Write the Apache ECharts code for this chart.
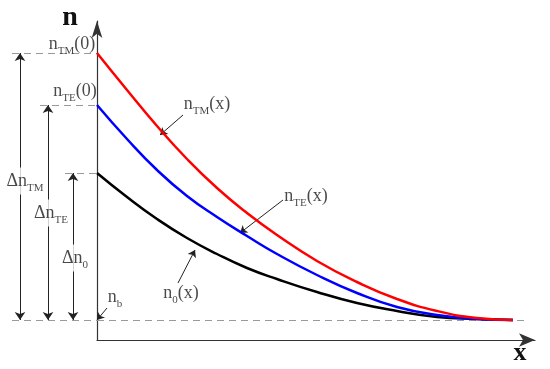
<!DOCTYPE html>
<html>
<head>
<meta charset="utf-8">
<script src="https://cdn.jsdelivr.net/npm/echarts/dist/echarts.min.js"></script>
<style>
  html, body { margin: 0; padding: 0; background: #fff; }
  #chart { width: 550px; height: 369px; }
</style>
</head>
<body>
<div id="chart"></div>
<script>
// depth x (arbitrary units, 0 = surface)
const depth = [0, 30, 60, 90, 120, 150, 180, 220, 260, 300, 340, 380, 416];
// index profiles, measured above the substrate level n_b
const nTM = [267, 230, 194, 161, 132, 107, 85, 59, 38, 21, 9, 2, 0];
const nTE = [215, 181, 150, 124, 103, 84, 66, 45, 27, 13, 5, 1, 0];
const n0 = [147, 123, 101, 82, 66, 52, 41, 28, 17, 9, 3, 1, 0];
const nb = 0;

const FONT = 'Liberation Serif';
const rich = {
  n: { fontSize: 18, fontFamily: FONT, color: '#1a1a1a' },
  s: { fontSize: 11, fontFamily: FONT, color: '#1a1a1a', padding: [14, 0, 0, 0] }
};

function curve(name, vals, color) {
  return {
    name: name,
    type: 'line',
    xAxisIndex: 0,
    yAxisIndex: 0,
    data: depth.map((x, i) => [x, vals[i]]),
    symbol: 'none',
    smooth: 0.5,
    lineStyle: { color: color, width: 2.5 },
    z: 5,
    silent: true
  };
}

function seg(x1, y1, x2, y2) {
  return [{ coord: [x1, y1] }, { coord: [x2, y2] }];
}

function labels(grid, items, bg) {
  return {
    type: 'scatter',
    xAxisIndex: grid,
    yAxisIndex: grid,
    symbolSize: 0,
    silent: true,
    z: 8,
    data: items.map(it => ({
      value: it[1],
      label: { formatter: it[0] }
    })),
    label: {
      show: true,
      position: 'inside',
      rich: rich,
      backgroundColor: bg,
      padding: [1, 1]
    }
  };
}

const dashStyle = { color: '#9a9a9a', width: 1, type: [7, 5] };
const arrowStyle = { color: '#222', width: 1, type: 'solid' };

const option = {
  animation: false,
  backgroundColor: '#fff',
  grid: [
    { left: 97, right: 15, top: 21, bottom: 29 },
    { left: 0, width: 97, top: 21, bottom: 29 }
  ],
  xAxis: [
    {
      type: 'value', gridIndex: 0, min: 0, max: 438,
      axisLine: {
        onZero: false,
        symbol: ['none', 'arrow'],
        symbolSize: [10, 16],
        lineStyle: { color: '#333', width: 1.2 }
      },
      axisTick: { show: false }, axisLabel: { show: false }, splitLine: { show: false }
    },
    {
      type: 'value', gridIndex: 1, min: -97, max: 0, show: false,
      splitLine: { show: false }
    }
  ],
  yAxis: [
    {
      type: 'value', gridIndex: 0, min: -20, max: 299,
      axisLine: {
        show: true,
        onZero: false,
        symbol: ['none', 'arrow'],
        symbolSize: [8, 17],
        lineStyle: { color: '#333', width: 1.2 }
      },
      axisTick: { show: false }, axisLabel: { show: false }, splitLine: { show: false }
    },
    {
      type: 'value', gridIndex: 1, min: -20, max: 299, show: false,
      splitLine: { show: false }
    }
  ],
  graphic: [
    { type: 'text', x: 70, y: 18, style: { text: 'n', font: 'bold 28px ' + FONT, fill: '#111', align: 'center', verticalAlign: 'middle' } },
    { type: 'text', x: 520, y: 353, style: { text: 'x', font: 'bold 26px ' + FONT, fill: '#111', align: 'center', verticalAlign: 'middle' } }
  ],
  series: [
    // substrate level in the plot area
    {
      type: 'line', xAxisIndex: 0, yAxisIndex: 0, data: [], silent: true, z: 2,
      markLine: {
        silent: true, symbol: 'none', label: { show: false },
        lineStyle: dashStyle,
        data: [seg(0, nb, 428, nb)]
      }
    },
    curve('n0', n0, '#000000'),
    curve('nTE', nTE, '#0000ff'),
    curve('nTM', nTM, '#ff0000'),
    // pointer arrows to the curves
    {
      type: 'line', xAxisIndex: 0, yAxisIndex: 0, data: [], silent: true, z: 6,
      markLine: {
        silent: true, symbol: ['none', 'arrow'], symbolSize: 7, label: { show: false },
        lineStyle: arrowStyle,
        data: [
          seg(86, 205, 63, 185),
          seg(186, 120, 143, 87),
          seg(81, 37, 98, 70),
          seg(10, 12, 0, nb)
        ]
      }
    },
    // level lines to the left of the n axis
    {
      type: 'line', xAxisIndex: 1, yAxisIndex: 1, data: [], silent: true, z: 2,
      markLine: {
        silent: true, symbol: 'none', label: { show: false },
        lineStyle: dashStyle,
        data: [
          seg(-85, nTM[0], 0, nTM[0]),
          seg(-57, nTE[0], 0, nTE[0]),
          seg(-32, n0[0], 0, n0[0]),
          seg(-85, nb, 0, nb)
        ]
      }
    },
    // delta arrows
    {
      type: 'line', xAxisIndex: 1, yAxisIndex: 1, data: [], silent: true, z: 4,
      markLine: {
        silent: true, symbol: ['arrow', 'arrow'], symbolSize: 8, label: { show: false },
        lineStyle: arrowStyle,
        data: [
          seg(-77, nTM[0], -77, nb),
          seg(-49, nTE[0], -49, nb),
          seg(-24, n0[0], -24, nb)
        ]
      }
    },
    labels(0, [
      ['{n|n}{s|TM}{n|(x)}', [110, 216]],
      ['{n|n}{s|TE}{n|(x)}', [209, 124]],
      ['{n|n}{s|0}{n|(x)}', [84, 27]],
      ['{n|n}{s|b}', [18, 23]]
    ], 'transparent'),
    labels(1, [
      ['{n|n}{s|TM}{n|(0)}', [-25, 276]],
      ['{n|n}{s|TE}{n|(0)}', [-22, 229]]
    ], 'transparent'),
    labels(1, [
      ['{n|Δn}{s|TM}', [-72, 139]],
      ['{n|Δn}{s|TE}', [-46, 107]],
      ['{n|Δn}{s|0}', [-22, 62]]
    ], '#fff')
  ]
};

const chart = echarts.init(document.getElementById('chart'));
chart.setOption(option);
</script>
</body>
</html>
